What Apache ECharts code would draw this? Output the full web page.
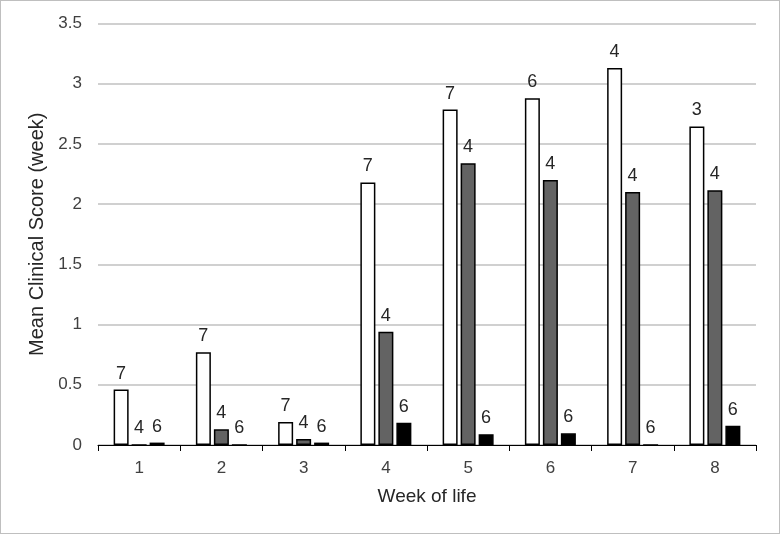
<!DOCTYPE html>
<html>
<head>
<meta charset="utf-8">
<script src="https://cdn.jsdelivr.net/npm/echarts@6/dist/echarts.min.js"></script>
<style>
html,body{margin:0;padding:0;background:#fff;}
#wrap{position:absolute;left:0;top:0;width:778px;height:532px;border:1px solid #bfbfbf;}
#c{width:778px;height:532px;}
</style>
</head>
<body>
<div id="wrap"><div id="c"></div></div>
<script>
const weeks = ['1','2','3','4','5','6','7','8'];
const whiteVals = [0.46, 0.77, 0.19, 2.18, 2.785, 2.88, 3.13, 2.645];
const grayVals  = [0.0, 0.13, 0.05, 0.94, 2.34, 2.20, 2.10, 2.115];
const blackVals = [0.02, 0.0, 0.02, 0.185, 0.09, 0.097, 0.0, 0.16];
const whiteN = [7, 7, 7, 7, 7, 6, 4, 3];
const grayN  = [4, 4, 4, 4, 4, 4, 4, 4];
const blackN = [6, 6, 6, 6, 6, 6, 6, 6];
const yTicks = ['0','0.5','1','1.5','2','2.5','3','3.5'];

const font = 'Liberation Sans, Arial, sans-serif';
function mk(name, vals, ns, color) {
  return {
    name: name, type: 'bar', data: vals,
    barWidth: 15, barGap: '20%',
    itemStyle: { color: color, borderColor: '#000', borderWidth: 1.5 },
    label: {
      show: true, position: 'top', distance: 7,
      formatter: p => String(ns[p.dataIndex]),
      fontFamily: font, fontSize: 18, color: '#262626'
    },
    animation: false
  };
}
const chart = echarts.init(document.getElementById('c'));
chart.setOption({
  animation: false,
  grid: { left: 97, right: 23, top: 22.5, bottom: 88 },
  xAxis: {
    type: 'category', data: weeks,
    name: 'Week of life', nameLocation: 'middle', nameGap: 42,
    nameTextStyle: { fontFamily: font, fontSize: 19, color: '#262626' },
    axisLine: { lineStyle: { color: '#000', width: 1 } },
    axisTick: { show: true, length: 6, lineStyle: { color: '#000' } },
    axisLabel: { fontFamily: font, fontSize: 17, color: '#404040', margin: 15 }
  },
  yAxis: {
    type: 'value', min: 0, max: 3.5, interval: 0.5,
    name: 'Mean Clinical Score (week)', nameLocation: 'middle', nameGap: 48,
    nameTextStyle: { fontFamily: font, fontSize: 20, color: '#262626' },
    axisLine: { show: false }, axisTick: { show: false },
    axisLabel: { fontFamily: font, fontSize: 17, color: '#404040', margin: 16,
      formatter: v => yTicks[Math.round(v / 0.5)] },
    splitLine: { lineStyle: { color: '#c0c0c0', width: 1.5 } }
  },
  series: [
    mk('A', whiteVals, whiteN, '#ffffff'),
    mk('B', grayVals, grayN, '#636363'),
    mk('C', blackVals, blackN, '#000000')
  ]
});
</script>
</body>
</html>
